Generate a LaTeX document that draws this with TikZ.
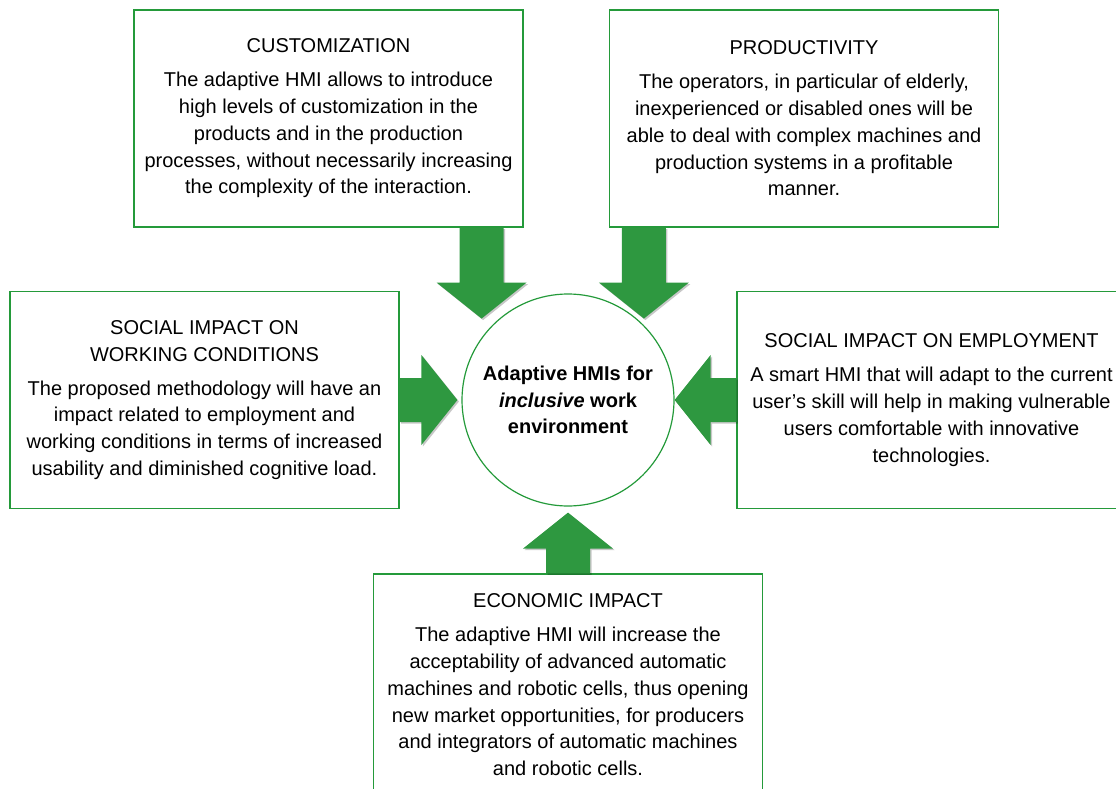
\documentclass[tikz,border=0pt]{standalone}
\usepackage{fontspec}
\setmainfont{Liberation Sans}
\usetikzlibrary{calc, shadows}

\definecolor{hmigreen}{RGB}{36,154,58}
\definecolor{arrowgreen}{RGB}{46,152,64}

%%% thick block arrow from #1 (tail) to #2 (tip)
\newcommand{\blockarrow}[2]{%
  \path[arrowbody] let \p1=#1, \p2=#2,
    \n1={atan2(\y2-\y1,\x2-\x1)}, \n2={veclen(\x2-\x1,\y2-\y1)} in
    {[shift={(\p1)}, rotate=\n1]
      (0pt,-22pt) -- ({\n2*1pt-36pt},-22pt) -- ({\n2*1pt-36pt},-45pt)
      -- ({\n2*1pt},0pt) -- ({\n2*1pt-36pt},45pt) -- ({\n2*1pt-36pt},22pt)
      -- (0pt,22pt) -- cycle};}

\begin{document}
\begin{tikzpicture}[
  x=1pt, y=-1pt,
  infobox/.style={
    draw=hmigreen, line width=1.2pt, fill=white,
    minimum width=389pt, minimum height=217pt,
    inner sep=0pt, align=center,
    font=\fontsize{20}{26.8}\selectfont
  },
  hubcircle/.style={
    circle, draw=hmigreen, line width=1.2pt,
    minimum size=212pt, inner sep=0pt, align=center,
    font=\fontsize{20}{26.5}\selectfont\bfseries
  },
  arrowbody/.style={
    fill=arrowgreen,
    drop shadow={shadow xshift=1.5pt, shadow yshift=-1.5pt,
      fill=black, opacity=.22}
  },
]

\useasboundingbox (0,0) rectangle (1116,789);
\clip (0,0) rectangle (1116,789);

%%% Centre
\node[hubcircle] (hub) at (568,400)
  {Adaptive HMIs for\\\textit{inclusive} work\\environment};

%%% Top row
\node[infobox] (cust) at (328.5,118.5)
  {CUSTOMIZATION\\[7pt]
   The adaptive HMI allows to introduce\\
   high levels of customization in the\\
   products and in the production\\
   processes, without necessarily increasing\\
   the complexity of the interaction.};
\node[infobox] (prod) at (804,118.5)
  {PRODUCTIVITY\\[7pt]
   The operators, in particular of elderly,\\
   inexperienced or disabled ones will be\\
   able to deal with complex machines and\\
   production systems in a profitable\\
   manner.};

%%% Middle row
\node[infobox] (socw) at (204.5,400)
  {SOCIAL IMPACT ON\\
   WORKING CONDITIONS\\[7pt]
   The proposed methodology will have an\\
   impact related to employment and\\
   working conditions in terms of increased\\
   usability and diminished cognitive load.};
\node[infobox] (soce) at (931.5,400)
  {SOCIAL IMPACT ON EMPLOYMENT\\[7pt]
   A smart HMI that will adapt to the current\\
   user's skill will help in making vulnerable\\
   users comfortable with innovative\\
   technologies.};

%%% Bottom
\node[infobox, minimum height=222pt] (econ) at (568,685)
  {ECONOMIC IMPACT\\[7pt]
   The adaptive HMI will increase the\\
   acceptability of advanced automatic\\
   machines and robotic cells, thus opening\\
   new market opportunities, for producers\\
   and integrators of automatic machines\\
   and robotic cells.};

%%% Arrows into the centre
\coordinate (custtail) at ([xshift=-42pt]cust.south east);
\coordinate (prodtail) at ([xshift=35pt]prod.south west);
\blockarrow{(custtail)}{([yshift=-91pt]custtail)}
\blockarrow{(prodtail)}{([yshift=-91pt]prodtail)}
\blockarrow{(socw.east)}{([xshift=-4pt]hub.west)}
\blockarrow{(soce.west)}{(hub.east)}
\blockarrow{(econ.north)}{([yshift=-6pt]hub.south)}

\end{tikzpicture}
\end{document}
